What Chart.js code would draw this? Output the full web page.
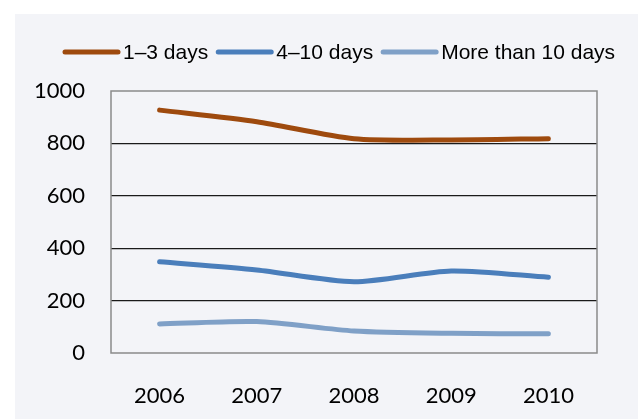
<!DOCTYPE html>
<html>
<head>
<meta charset="utf-8">
<script src="https://cdn.jsdelivr.net/npm/chart.js@4.4.1/dist/chart.umd.min.js"></script>
<style>
  html, body { margin: 0; padding: 0; background: #ffffff; }
  #wrap { width: 638px; height: 419px; position: relative; }
</style>
</head>
<body>
<div id="wrap"><canvas id="c" width="638" height="419"></canvas></div>
<script>
// Number of stays by length, 2006–2010
const years = ['2006', '2007', '2008', '2009', '2010'];
const shortStays = [927, 883, 818, 813, 818];   // 1–3 days
const mediumStays = [348, 317, 272, 313, 289];  // 4–10 days
const longStays = [111, 120, 84, 75, 73];       // More than 10 days
const seriesNames = ['1–3 days', '4–10 days', 'More than 10 days'];
const seriesColors = ['#9E4A0E', '#4A7EBB', '#7FA0C7'];
const yTicks = [0, 200, 400, 600, 800, 1000];

const tickFont = { family: 'Lato, "Open Sans", sans-serif', size: 22 };

// Page background: white margin with a light grey panel
const panel = {
  id: 'panel',
  beforeDraw(chart) {
    const ctx = chart.ctx;
    ctx.save();
    ctx.fillStyle = '#ffffff';
    ctx.fillRect(0, 0, chart.width, chart.height);
    ctx.fillStyle = '#F3F4F8';
    ctx.fillRect(15, 14, chart.width - 15, chart.height - 14);
    ctx.restore();
  }
};

// Grey frame around the plot area
const frame = {
  id: 'frame',
  afterDatasetsDraw(chart) {
    const a = chart.chartArea;
    const ctx = chart.ctx;
    ctx.save();
    ctx.strokeStyle = '#8A8A8A';
    ctx.lineWidth = 1.5;
    ctx.strokeRect(a.left, a.top, a.right - a.left, a.bottom - a.top);
    ctx.restore();
  }
};

// Legend row: a short thick line followed by the series name
const lineLegend = {
  id: 'lineLegend',
  afterDraw(chart) {
    const ctx = chart.ctx;
    ctx.save();
    ctx.font = '21px "Liberation Sans", Arial, sans-serif';
    ctx.textBaseline = 'middle';
    ctx.fillStyle = '#000000';
    let x = 65;
    const y = 52;
    chart.data.datasets.forEach(ds => {
      ctx.strokeStyle = ds.borderColor;
      ctx.lineWidth = 5;
      ctx.lineCap = 'round';
      ctx.beginPath();
      ctx.moveTo(x, y);
      ctx.lineTo(x + 53, y);
      ctx.stroke();
      x += 58;
      ctx.fillText(ds.label, x, y + 1);
      x += ctx.measureText(ds.label).width + 10;
    });
    ctx.restore();
  }
};

const makeSet = (i, data) => ({
  label: seriesNames[i],
  data: data,
  borderColor: seriesColors[i],
  backgroundColor: seriesColors[i],
  borderWidth: 5,
  borderCapStyle: 'round',
  borderJoinStyle: 'round',
  pointRadius: 0,
  tension: 0.25,
  fill: false
});

new Chart(document.getElementById('c'), {
  type: 'line',
  data: {
    labels: years,
    datasets: [
      makeSet(0, shortStays),
      makeSet(1, mediumStays),
      makeSet(2, longStays)
    ]
  },
  options: {
    responsive: false,
    animation: false,
    layout: { padding: { top: 91, left: 0, right: 41, bottom: 0 } },
    plugins: {
      legend: { display: false },
      tooltip: { enabled: false }
    },
    scales: {
      x: {
        offset: true,
        grid: { display: false, drawTicks: false },
        border: { display: false },
        ticks: { color: '#000000', font: tickFont, padding: 30, maxRotation: 0 },
        afterFit(scale) { scale.height = 66; }
      },
      y: {
        min: yTicks[0],
        max: yTicks[yTicks.length - 1],
        afterBuildTicks(scale) { scale.ticks = yTicks.map(v => ({ value: v })); },
        grid: {
          drawTicks: false,
          lineWidth: 1.2,
          color: ctx => (ctx.tick && (ctx.tick.value === 0 || ctx.tick.value === 1000)) ? 'rgba(0,0,0,0)' : '#1a1a1a'
        },
        border: { display: false },
        ticks: {
          color: '#000000',
          font: tickFont,
          padding: 26,
          callback: v => String(v)
        },
        afterFit(scale) { scale.width = 111; }
      }
    }
  },
  plugins: [panel, frame, lineLegend]
});
</script>
</body>
</html>
